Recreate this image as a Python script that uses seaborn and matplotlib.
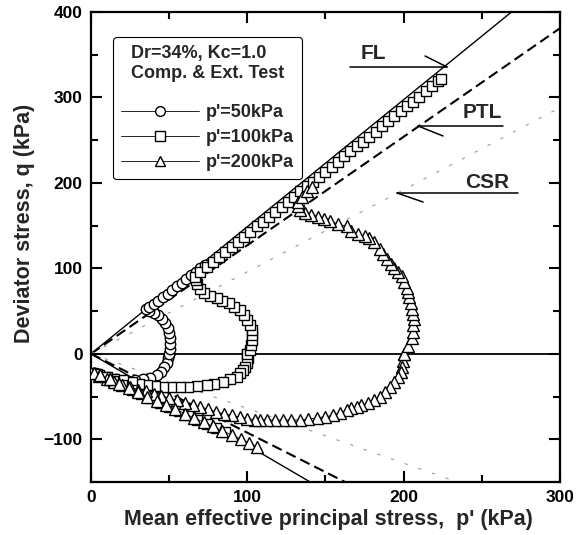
import numpy as np
import matplotlib
matplotlib.use("Agg")
import matplotlib.pyplot as plt
import seaborn as sns
from matplotlib.lines import Line2D

# ---------------- data ----------------
# p'=50 kPa (circles)
c50_p = [50, 50.6, 50.8, 50.5, 50, 49, 47.5, 45.5, 43, 40, 37, 35, 37, 40, 43, 46, 49, 52, 55, 58, 61, 64, 67, 70, 73]
c50_q = [0, 6, 12, 18, 24, 30, 36, 41, 45, 48, 50, 52, 55, 58, 62, 66, 70, 75, 79, 83, 88, 92, 96, 100, 104]
e50_p = [50, 49.5, 48.5, 47, 45, 42, 38, 33, 28, 22, 16, 10, 5, 2, 5, 9, 14, 19, 24, 30, 36, 42, 48, 54, 60]
e50_q = [0, -5, -11, -16, -21, -25, -28, -30, -31, -31, -30, -28, -25, -22, -24, -28, -32, -36, -40, -45, -50, -55, -60, -65, -70]

# p'=100 kPa (squares)
c100_p = [100, 101.5, 102.5, 103, 103, 103, 102, 100, 98, 95, 91.5, 88, 84, 80.6, 76, 72, 69.5, 68, 67, 66.5,
          70, 74, 78, 82, 86, 90, 94, 98, 102, 106, 110, 114, 118, 122, 126, 130, 134, 138, 142, 146, 150,
          154, 158, 162, 166, 170, 174, 178, 182, 186, 190, 194, 198, 202, 206, 210, 214, 218, 222, 224]
c100_q = [0, 5, 10, 16, 22, 28, 34, 39, 45, 51, 55, 59, 62, 65, 68, 71, 76, 82, 86, 90,
          96, 102, 107, 113, 119, 125, 131, 137, 143, 149, 154, 160, 166, 172, 178, 184, 190, 196, 201, 207, 213,
          219, 225, 231, 237, 243, 248, 254, 260, 266, 272, 278, 284, 290, 295, 301, 307, 313, 319, 322]
e100_p = [100, 100.5, 100, 98.5, 97, 95.5, 93.5, 89, 84.5, 79, 74, 68, 62, 57, 51, 46, 41, 36, 31, 26, 20.5, 15, 10, 5, 1.5,
          4, 9, 14, 20, 26, 32, 38, 44, 50, 56, 62, 68, 74, 80, 86]
e100_q = [0, -5, -11, -16, -19, -23, -27, -30, -33, -35, -37, -38, -39, -39, -39, -38.5, -38, -37, -35.5, -33.5, -31, -29, -27, -25, -23,
          -23.5, -27.5, -32, -37, -42, -47, -52, -57, -62, -67, -72, -77, -82, -87, -92]

# p'=200 kPa (triangles)
c200_p = [200, 203, 205.6, 206.2, 206.3, 206.5, 206.3, 205.5, 204.6, 203.7, 202.8, 202, 200.5, 198.8, 196.5, 193.9,
          192, 189.5, 187, 185, 181.1, 178, 175.3, 171, 166.5, 163.6, 158, 152.9, 149, 145.4, 141, 137, 134, 132.6,
          132.6, 135, 138, 141.5]
c200_q = [0, 9, 18, 26, 34, 41, 47, 53, 59, 67, 72, 77, 84, 91, 96, 100,
          105, 111, 117, 123, 131, 135, 138, 140, 144, 149, 152, 155, 158, 160.5, 163, 165, 168, 173,
          178, 184, 190, 195]
e200_p = [200, 199.5, 199, 198, 196.6, 194, 191, 188, 185, 181, 177, 173, 170, 166.5, 163.5, 159, 155, 150, 144.5, 139,
          134, 128, 123, 118, 112.5, 108, 105, 100, 95, 90, 85, 80, 75, 70, 65, 60, 55, 50, 45, 40, 35, 30, 25, 20,
          15, 10, 5, 2, 6, 12, 18, 24, 30, 36, 42, 48, 54, 60, 66, 72, 78, 84, 90, 96, 101, 106]
e200_q = [0, -8, -15, -21, -27, -33, -39, -45, -50, -54, -58, -60, -62, -64, -66, -69, -72, -73.5, -75, -76.5,
          -77.5, -77.5, -77.5, -77.5, -77.5, -77, -77, -76, -74, -72, -70, -68, -65, -62, -60, -57, -54, -52, -49, -47, -44, -42, -39, -36,
          -33, -29, -26, -23, -25, -30, -35, -40, -45, -50, -55, -60, -65, -70, -75, -80, -85, -90, -95, -100, -104, -109]

series_labels = ["p'=50kPa", "p'=100kPa", "p'=200kPa"]
series_markers = ["o", "s", "^"]

# reference lines: slopes in compression / extension
fl_slopes = [1.487, -1.07]
ptl_slopes = [1.27, -0.923]
csr_slopes = [0.96, -0.64]

legend_title = "Dr=34%, Kc=1.0\nComp. & Ext. Test"
x_ticks = [0, 100, 200, 300]
y_ticks = [-100, 0, 100, 200, 300, 400]

# ---------------- styling ----------------
sns.set_style("ticks")
plt.rcParams['font.family'] = ['Liberation Sans', 'DejaVu Sans']
plt.rcParams['font.weight'] = 'bold'
plt.rcParams['axes.labelweight'] = 'bold'

fig = plt.figure(figsize=(5.77, 5.35), dpi=100)
ax = fig.add_axes([0.1577, 0.0991, 0.8128, 0.8785])
ax.set_facecolor('white')

ax.set_xlim(0, 300)
ax.set_ylim(-150, 400)

pp = np.array([0.0, 320.0])
# FL solid
for s in fl_slopes:
    ax.plot(pp, s * pp, color='black', lw=1.0, zorder=2)
# PTL dashed
for s in ptl_slopes:
    ax.plot(pp, s * pp, color='black', lw=1.5, dashes=(5, 2.5), zorder=2)
# CSR dotted faint
for s in csr_slopes:
    ax.plot(pp, s * pp, color='0.6', lw=0.8, dashes=(3, 10), zorder=2)

ax.axhline(0, color='black', lw=1.3, zorder=2)

series = [
    (c50_p, c50_q, e50_p, e50_q),
    (c100_p, c100_q, e100_p, e100_q),
    (c200_p, c200_q, e200_p, e200_q),
]
mk_kw = dict(color='black', lw=0.6, mfc='white', mec='black', mew=1.0)
msizes = [7.5, 7.5, 8]
for (cp, cq, ep, eq), m, ms in zip(series, series_markers, msizes):
    for xs, ys in ((ep, eq), (cp, cq)):
        sns.lineplot(x=xs, y=ys, sort=False, estimator=None, ax=ax, marker=m, ms=ms,
                     zorder=3, **mk_kw)

# annotations with half-arrow barbs
ann_lw = 1.1
ax.plot([165.7, 227.8], [335.6, 335.6], color='black', lw=ann_lw, zorder=4)
ax.plot([227.8, 213.7], [335.6, 348.5], color='black', lw=ann_lw, zorder=4)
ax.text(180.4, 352, "FL", ha='center', va='center', fontsize=15, fontweight='bold')

ax.plot([209.2, 263.6], [266.6, 266.6], color='black', lw=ann_lw, zorder=4)
ax.plot([209.2, 225.2], [266.6, 254.9], color='black', lw=ann_lw, zorder=4)
ax.text(250.2, 281.8, "PTL", ha='center', va='center', fontsize=15, fontweight='bold')

ax.plot([195.8, 273.2], [188.2, 188.2], color='black', lw=ann_lw, zorder=4)
ax.plot([195.8, 212.4], [188.2, 177.6], color='black', lw=ann_lw, zorder=4)
ax.text(253.4, 199.9, "CSR", ha='center', va='center', fontsize=15, fontweight='bold')

# ticks
ax.set_xticks(x_ticks)
ax.set_yticks(y_ticks)
ax.set_xticks([50, 150, 250], minor=True)
ax.set_yticks([-150, -50, 50, 150, 250, 350], minor=True)
ax.tick_params(which='both', direction='in', top=True, right=True, width=1.5, colors='black')
ax.tick_params(which='major', length=8, labelsize=12.5, pad=6)
ax.tick_params(which='minor', length=5)
for lab in ax.get_xticklabels() + ax.get_yticklabels():
    lab.set_fontweight('bold')
for sp in ax.spines.values():
    sp.set_linewidth(1.6)
    sp.set_color('black')
    sp.set_visible(True)

ax.set_xlabel("Mean effective principal stress,  p' (kPa)", fontsize=15.5, fontweight='bold', va='center')
ax.set_ylabel("Deviator stress, q (kPa)", fontsize=15.5, fontweight='bold', va='center')
ax.xaxis.set_label_coords(0.507, -0.079)
ax.yaxis.set_label_coords(-0.141, 0.551)

handles = [Line2D([0], [0], marker=m, ms=ms, **mk_kw) for m, ms in zip(series_markers, [7, 7, 7.5])]
leg = ax.legend(handles, series_labels, title=legend_title, loc='upper left',
                bbox_to_anchor=(0.047, 0.947), borderaxespad=0, fontsize=13,
                title_fontproperties={'weight': 'bold', 'size': 13},
                handlelength=4.3, handletextpad=0.4, labelspacing=0.45, numpoints=1,
                frameon=True, fancybox=True, framealpha=1, borderpad=0.45)
leg.get_frame().set_edgecolor('black')
leg.get_frame().set_linewidth(0.8)
for t in leg.get_texts():
    t.set_fontweight('bold')
leg._legend_box.sep = 16
leg.set_zorder(5)

fig.savefig("out.png", dpi=100, facecolor='white')
